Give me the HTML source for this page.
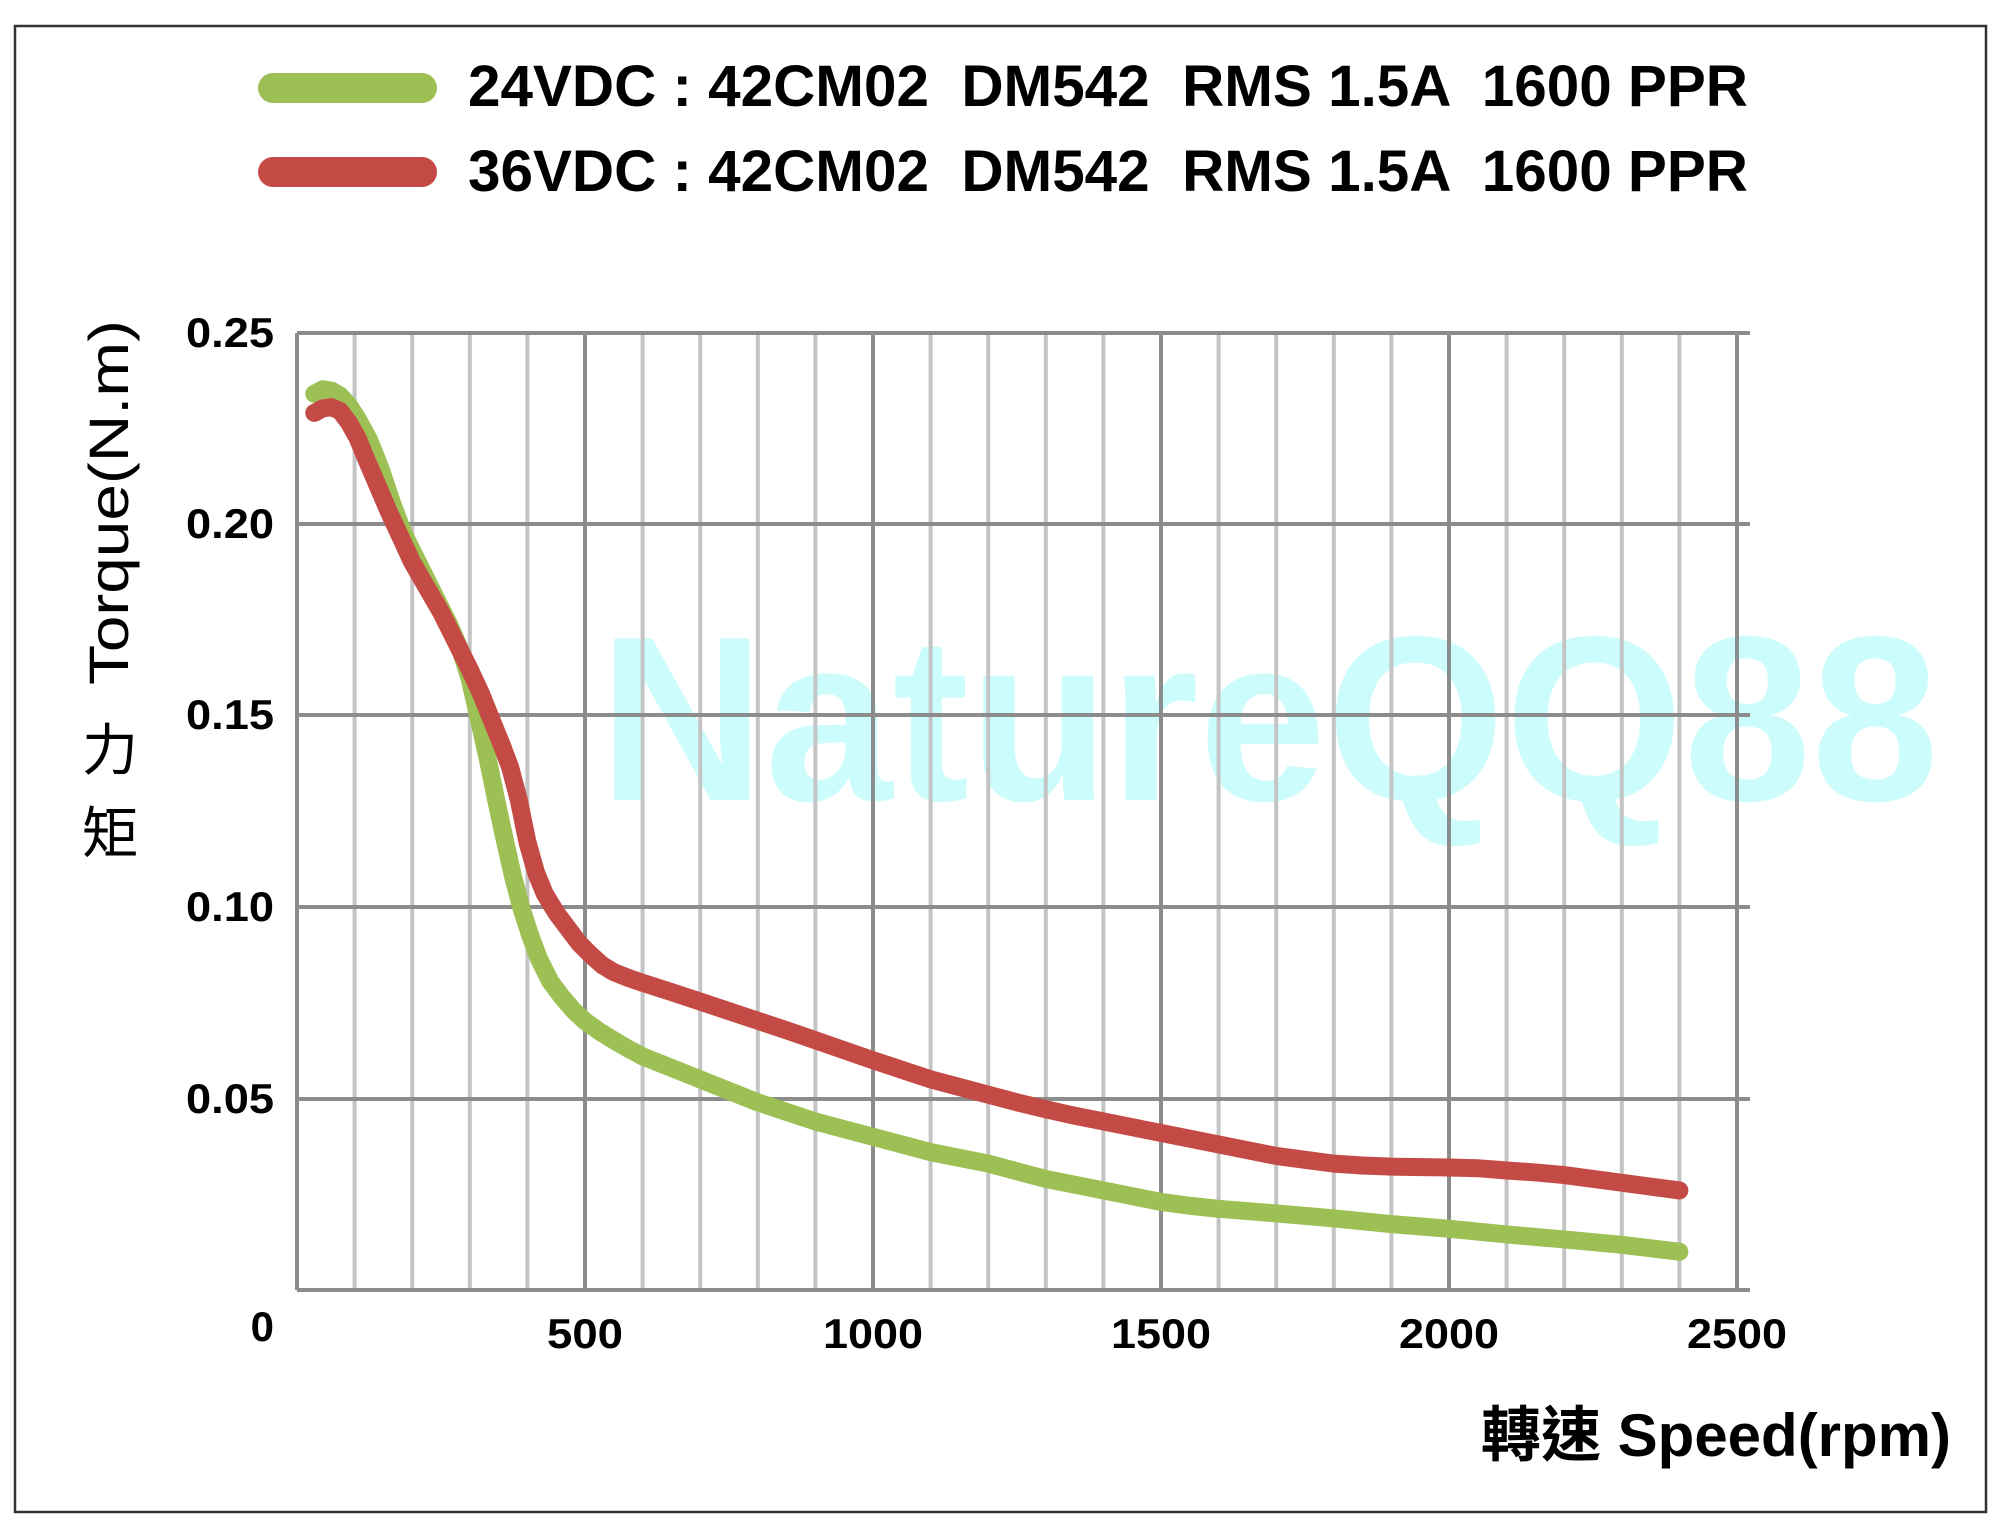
<!DOCTYPE html>
<html><head><meta charset="utf-8"><style>
html,body{margin:0;padding:0;background:#fff;}
svg{display:block;}
text{font-family:"Liberation Sans","Noto Sans CJK TC",sans-serif;}
.pre{white-space:pre;}
</style></head><body>
<svg width="2000" height="1520" viewBox="0 0 2000 1520" xmlns="http://www.w3.org/2000/svg">
<rect x="15" y="26" width="1971" height="1486" fill="#fff" stroke="#333" stroke-width="2.5"/>
<!-- legend -->
<line x1="273" y1="88" x2="422" y2="88" stroke="#9dc055" stroke-width="30" stroke-linecap="round"/>
<line x1="273" y1="172" x2="422" y2="172" stroke="#c44b45" stroke-width="30" stroke-linecap="round"/>
<text class="pre" xml:space="preserve" x="468" y="106" font-size="58" font-weight="bold" textLength="1280" lengthAdjust="spacingAndGlyphs">24VDC : 42CM02  DM542  RMS 1.5A  1600 PPR</text>
<text class="pre" xml:space="preserve" x="468" y="191" font-size="58" font-weight="bold" textLength="1280" lengthAdjust="spacingAndGlyphs">36VDC : 42CM02  DM542  RMS 1.5A  1600 PPR</text>
<!-- watermark -->
<text x="599" y="800" font-size="235" font-weight="bold" fill="#cdfcfc" textLength="1340" lengthAdjust="spacingAndGlyphs">NatureQQ88</text>
<!-- grid minor -->
<g stroke="#c4c4c4" stroke-width="4">
<line x1="354.6" y1="333" x2="354.6" y2="1290"/><line x1="412.2" y1="333" x2="412.2" y2="1290"/><line x1="469.8" y1="333" x2="469.8" y2="1290"/><line x1="527.4" y1="333" x2="527.4" y2="1290"/>
<line x1="642.6" y1="333" x2="642.6" y2="1290"/><line x1="700.2" y1="333" x2="700.2" y2="1290"/><line x1="757.8" y1="333" x2="757.8" y2="1290"/><line x1="815.4" y1="333" x2="815.4" y2="1290"/>
<line x1="930.6" y1="333" x2="930.6" y2="1290"/><line x1="988.2" y1="333" x2="988.2" y2="1290"/><line x1="1045.8" y1="333" x2="1045.8" y2="1290"/><line x1="1103.4" y1="333" x2="1103.4" y2="1290"/>
<line x1="1218.6" y1="333" x2="1218.6" y2="1290"/><line x1="1276.2" y1="333" x2="1276.2" y2="1290"/><line x1="1333.8" y1="333" x2="1333.8" y2="1290"/><line x1="1391.4" y1="333" x2="1391.4" y2="1290"/>
<line x1="1506.6" y1="333" x2="1506.6" y2="1290"/><line x1="1564.2" y1="333" x2="1564.2" y2="1290"/><line x1="1621.8" y1="333" x2="1621.8" y2="1290"/><line x1="1679.4" y1="333" x2="1679.4" y2="1290"/>
</g>
<g stroke="#8c8c8c" stroke-width="4">
<line x1="585" y1="333" x2="585" y2="1290"/><line x1="873" y1="333" x2="873" y2="1290"/><line x1="1161" y1="333" x2="1161" y2="1290"/><line x1="1449" y1="333" x2="1449" y2="1290"/><line x1="1737" y1="333" x2="1737" y2="1290"/>
<line x1="297" y1="333" x2="1750" y2="333"/><line x1="297" y1="524" x2="1750" y2="524"/><line x1="297" y1="715" x2="1750" y2="715"/><line x1="297" y1="907" x2="1750" y2="907"/><line x1="297" y1="1099" x2="1750" y2="1099"/>
<line x1="297" y1="1290" x2="1750" y2="1290"/><line x1="297" y1="333" x2="297" y2="1290"/>
</g>
<!-- curves -->
<g transform="translate(297,1290) scale(0.576,-3830)" fill="none" stroke-linecap="round" stroke-linejoin="round">
<polyline vector-effect="non-scaling-stroke" stroke="#9dc055" stroke-width="18" points="30,0.234 45,0.2352 60,0.2348 75,0.2335 90,0.231 105,0.2275 125,0.222 145,0.2145 165,0.2055 185,0.1975 205,0.1915 225,0.1855 245,0.1795 265,0.1735 285,0.1665 300,0.1595 315,0.1495 330,0.1395 345,0.1285 360,0.118 375,0.108 390,0.0995 405,0.0925 420,0.0865 440,0.0805 460,0.0765 480,0.073 500,0.0702 525,0.0675 550,0.0652 575,0.063 600,0.061 650,0.058 700,0.055 750,0.052 800,0.049 850,0.0465 900,0.044 950,0.042 1000,0.040 1050,0.038 1100,0.036 1150,0.0345 1200,0.033 1250,0.031 1300,0.029 1350,0.0275 1400,0.026 1450,0.0245 1500,0.023 1550,0.022 1600,0.0212 1700,0.020 1800,0.0187 1900,0.0172 2000,0.016 2100,0.0145 2200,0.0132 2300,0.0118 2400,0.010"/>
<polyline vector-effect="non-scaling-stroke" stroke="#c44b45" stroke-width="18" points="30,0.229 45,0.2302 60,0.2305 75,0.2295 90,0.2265 105,0.2225 120,0.217 140,0.210 160,0.203 180,0.1965 200,0.190 225,0.1835 250,0.177 275,0.1695 300,0.162 320,0.1555 340,0.148 355,0.1425 370,0.1365 385,0.128 400,0.117 415,0.109 430,0.1035 450,0.0985 470,0.0945 490,0.0905 510,0.0875 530,0.0848 550,0.083 575,0.0815 600,0.0802 650,0.0778 700,0.0753 750,0.0728 800,0.0703 850,0.0678 900,0.0652 950,0.0626 1000,0.060 1050,0.0575 1100,0.055 1150,0.053 1200,0.051 1250,0.049 1300,0.0472 1350,0.0455 1400,0.044 1450,0.0425 1500,0.041 1550,0.0395 1600,0.038 1650,0.0365 1700,0.035 1750,0.034 1800,0.033 1850,0.0325 1900,0.0322 2000,0.032 2050,0.0318 2100,0.0312 2150,0.0307 2200,0.030 2300,0.028 2400,0.026"/>
</g>
<!-- y ticks -->
<g font-size="42" font-weight="bold" text-anchor="end">
<text x="274" y="347" textLength="88" lengthAdjust="spacingAndGlyphs">0.25</text>
<text x="274" y="538" textLength="88" lengthAdjust="spacingAndGlyphs">0.20</text>
<text x="274" y="729" textLength="88" lengthAdjust="spacingAndGlyphs">0.15</text>
<text x="274" y="921" textLength="88" lengthAdjust="spacingAndGlyphs">0.10</text>
<text x="274" y="1113" textLength="88" lengthAdjust="spacingAndGlyphs">0.05</text>
<text x="274" y="1341">0</text>
</g>
<g font-size="42" font-weight="bold" text-anchor="middle">
<text x="585" y="1348" textLength="76" lengthAdjust="spacingAndGlyphs">500</text>
<text x="873" y="1348" textLength="100" lengthAdjust="spacingAndGlyphs">1000</text>
<text x="1161" y="1348" textLength="100" lengthAdjust="spacingAndGlyphs">1500</text>
<text x="1449" y="1348" textLength="100" lengthAdjust="spacingAndGlyphs">2000</text>
<text x="1737" y="1348" textLength="100" lengthAdjust="spacingAndGlyphs">2500</text>
</g>
<!-- y axis title -->
<text transform="translate(128,685) rotate(-90)" font-size="56" textLength="365" lengthAdjust="spacingAndGlyphs">Torque(N.m)</text>
<text x="82" y="770" font-size="56">力</text>
<text x="82" y="853" font-size="56">矩</text>
<!-- x axis title -->
<text x="1951" y="1456" font-size="60" font-weight="bold" text-anchor="end" textLength="470" lengthAdjust="spacingAndGlyphs">轉速 Speed(rpm)</text>
</svg>
</body></html>
